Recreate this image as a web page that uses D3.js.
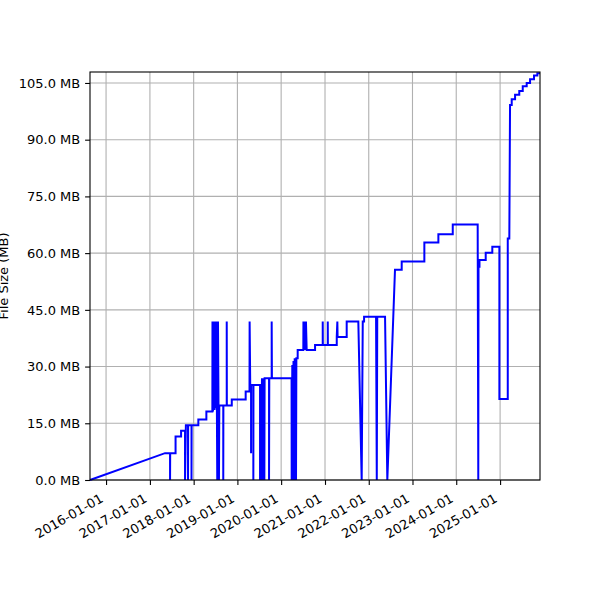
<!DOCTYPE html>
<html>
<head>
<meta charset="utf-8">
<script src="https://cdn.jsdelivr.net/npm/d3@7"></script>
<style>
body { margin: 0; background: #fff; }
text { font-family: "DejaVu Sans", sans-serif; }
</style>
</head>
<body>
<div class="chart-container"></div>
<script>
const width = 600;
const height = 600;
const margin = {top: 72, right: 60, bottom: 120, left: 90};

// commit dates and file size (MB)
const dates = [
    "2015-08-20", "2017-05-07", "2017-06-18", "2017-06-18", "2017-06-19",
    "2017-08-03", "2017-08-03", "2017-09-18", "2017-09-18",
    "2017-10-21", "2017-10-21", "2017-10-28", "2017-11-15", "2017-11-15", "2017-11-16",
    "2017-12-14", "2017-12-14", "2017-12-15", "2018-02-09", "2018-02-09",
    "2018-04-17", "2018-04-17", "2018-06-06", "2018-06-07", "2018-06-11", "2018-06-15",
    "2018-06-24", "2018-06-28", "2018-07-06", "2018-07-10", "2018-07-17", "2018-07-23",
    "2018-07-31", "2018-08-03", "2018-09-05", "2018-09-05", "2018-09-06",
    "2018-10-04", "2018-10-04", "2018-10-05", "2018-11-15", "2018-11-15",
    "2019-03-11", "2019-03-11", "2019-04-12", "2019-04-13", "2019-04-18",
    "2019-04-25", "2019-04-25", "2019-04-26", "2019-05-14", "2019-05-14", "2019-05-15",
    "2019-07-09", "2019-07-09", "2019-07-13", "2019-07-21", "2019-07-25", "2019-08-03",
    "2019-08-07", "2019-08-14", "2019-08-16", "2019-09-22", "2019-09-22", "2019-09-24",
    "2019-10-14", "2019-10-14", "2019-10-16", "2020-03-28",
    "2020-03-29", "2020-04-03", "2020-04-09", "2020-04-13", "2020-04-20", "2020-04-23",
    "2020-05-04", "2020-05-07", "2020-05-18", "2020-05-18",
    "2020-07-04", "2020-07-05", "2020-07-09", "2020-07-14", "2020-07-22", "2020-07-26",
    "2020-08-01", "2020-10-10", "2020-10-10",
    "2020-12-13", "2020-12-13", "2020-12-14", "2021-01-24", "2021-01-24", "2021-01-25",
    "2021-04-09", "2021-04-09", "2021-04-14", "2021-04-16", "2021-07-01", "2021-07-01",
    "2021-10-06", "2021-11-03", "2021-11-12", "2021-11-23", "2021-11-23",
    "2022-03-03", "2022-03-09", "2022-03-13", "2022-05-17", "2022-06-05",
    "2022-08-08", "2022-10-03", "2022-10-03",
    "2023-04-10", "2023-04-10", "2023-08-05", "2023-08-05", "2023-12-03", "2023-12-03",
    "2024-06-28", "2024-07-03", "2024-07-05", "2024-07-13", "2024-07-13",
    "2024-09-03", "2024-09-03", "2024-10-28", "2024-10-28", "2024-12-26", "2024-12-26",
    "2025-03-06", "2025-03-06", "2025-03-19", "2025-03-25",
    "2025-04-08", "2025-04-08", "2025-05-06", "2025-05-06", "2025-06-10", "2025-06-10",
    "2025-07-09", "2025-07-09", "2025-08-11", "2025-08-11", "2025-09-08", "2025-09-08",
    "2025-10-11", "2025-10-11", "2025-11-08", "2025-11-08", "2025-11-30"
];

const sizes = [
    0, 7.1, 7.1, 0, 7.1,
    7.1, 11.5, 11.5, 13.0,
    13.0, 0, 14.5, 14.5, 0, 14.5,
    14.5, 0, 14.5, 14.5, 16.0,
    16.0, 18.1, 18.1, 41.9, 18.1, 41.9,
    18.5, 41.9, 19.0, 41.9, 0, 41.9,
    0, 19.7, 19.7, 0, 19.7,
    19.7, 41.9, 19.7, 19.7, 21.3,
    21.3, 23.4, 23.4, 41.9, 25.1,
    25.1, 7.05, 25.1, 25.1, 0, 25.1,
    25.1, 0, 25.1, 0, 26.9, 0,
    26.9, 0, 26.9, 26.9, 0, 26.9,
    26.9, 41.9, 26.9, 26.9,
    0, 30.4, 0, 31.5, 0, 32.2,
    0, 32.2, 32.2, 34.4,
    34.4, 41.9, 34.4, 41.9, 34.4, 41.9,
    34.4, 34.4, 35.7,
    35.7, 41.9, 35.7, 35.7, 41.9, 35.7,
    35.7, 37.8, 41.9, 37.8, 37.8, 41.9,
    41.9, 0, 41.9, 41.9, 43.2,
    43.2, 0, 43.2, 43.2, 0,
    55.6, 55.6, 57.8,
    57.8, 62.8, 62.8, 65.0, 65.0, 67.6,
    67.6, 0, 56.4, 56.4, 58.2,
    58.2, 60.1, 60.1, 61.7, 61.7, 21.4,
    21.4, 63.9, 63.9, 99.2,
    99.2, 100.7, 100.7, 101.9, 101.9, 102.9,
    102.9, 104.1, 104.1, 105.0, 105.0, 106.0,
    106.0, 107.0, 107.0, 107.6, 107.6
];

const yTicks = [0, 15, 30, 45, 60, 75, 90, 105];
const xTickLabels = ["2016-01-01", "2017-01-01", "2018-01-01", "2019-01-01", "2020-01-01",
    "2021-01-01", "2022-01-01", "2023-01-01", "2024-01-01", "2025-01-01"];

const parseDate = d3.utcParse("%Y-%m-%d");
const points = dates.map((d, i) => ({date: parseDate(d), size: sizes[i]}));

const svg = d3.select(".chart-container").append("svg")
    .attr("width", width)
    .attr("height", height);

svg.append("rect")
    .attr("width", width)
    .attr("height", height)
    .attr("fill", "white");

const x = d3.scaleUtc()
    .domain(d3.extent(points, d => d.date))
    .range([margin.left, width - margin.right]);

const y = d3.scaleLinear()
    .domain([0, 107.9])
    .range([height - margin.bottom, margin.top]);

const plotBottom = height - margin.bottom;
const plotRight = width - margin.right;

// grid
svg.append("g")
    .selectAll("line")
    .data(xTickLabels)
    .join("line")
    .attr("x1", d => x(parseDate(d)))
    .attr("x2", d => x(parseDate(d)))
    .attr("y1", margin.top)
    .attr("y2", plotBottom)
    .attr("stroke", "#b0b0b0")
    .attr("stroke-width", 1.1);

svg.append("g")
    .selectAll("line")
    .data(yTicks)
    .join("line")
    .attr("x1", margin.left)
    .attr("x2", plotRight)
    .attr("y1", d => y(d))
    .attr("y2", d => y(d))
    .attr("stroke", "#b0b0b0")
    .attr("stroke-width", 1.1);

// the line
const line = d3.line()
    .x(d => x(d.date))
    .y(d => y(d.size));

svg.append("path")
    .datum(points)
    .attr("d", line)
    .attr("fill", "none")
    .attr("stroke", "blue")
    .attr("stroke-width", 2)
    .attr("stroke-linejoin", "miter");

// axes
const yAxis = svg.append("g")
    .attr("transform", `translate(${margin.left},0)`)
    .call(d3.axisLeft(y)
        .tickValues(yTicks)
        .tickSize(4.9)
        .tickPadding(4.9)
        .tickFormat(d => d3.format(".1f")(d) + " MB"));

const xAxis = svg.append("g")
    .attr("transform", `translate(0,${plotBottom})`)
    .call(d3.axisBottom(x)
        .tickValues(xTickLabels.map(parseDate))
        .tickSize(4.9)
        .tickFormat(""));

[xAxis, yAxis].forEach(a => {
    a.select(".domain").remove();
    a.selectAll("line").attr("stroke", "black").attr("stroke-width", 1.1);
    a.selectAll("text").attr("font-size", "13px").attr("fill", "black")
        .attr("font-family", "DejaVu Sans");
});

// rotated date labels
svg.append("g")
    .selectAll("text")
    .data(xTickLabels)
    .join("text")
    .attr("transform", d => `translate(${x(parseDate(d)) - 2},${plotBottom + 21}) rotate(-30)`)
    .attr("text-anchor", "end")
    .attr("font-size", "13px")
    .text(d => d);

// frame
svg.append("rect")
    .attr("x", margin.left)
    .attr("y", margin.top)
    .attr("width", plotRight - margin.left)
    .attr("height", plotBottom - margin.top)
    .attr("fill", "none")
    .attr("stroke", "black")
    .attr("stroke-width", 1.1);

svg.append("text")
    .attr("transform", `translate(7.5,${(margin.top + plotBottom) / 2}) rotate(-90)`)
    .attr("text-anchor", "middle")
    .attr("font-size", "13px")
    .text("File Size (MB)");
</script>
</body>
</html>
